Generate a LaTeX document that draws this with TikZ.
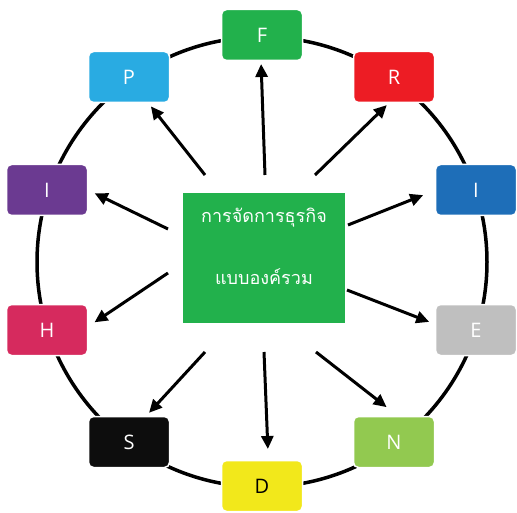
\documentclass[tikz,border=0pt]{standalone}
\usepackage{fontspec}
\setmainfont{Open Sans}
\newfontfamily\thaifont[Script=Thai]{Loma}
\usetikzlibrary{arrows.meta}

\definecolor{cF}{HTML}{22B14C}
\definecolor{cR}{HTML}{ED1C24}
\definecolor{cIr}{HTML}{1E6EB8}
\definecolor{cE}{HTML}{BFBFBF}
\definecolor{cN}{HTML}{92C950}
\definecolor{cD}{HTML}{F2E81B}
\definecolor{cS}{HTML}{0D0D0D}
\definecolor{cH}{HTML}{D62A5E}
\definecolor{cIl}{HTML}{6B3A91}
\definecolor{cP}{HTML}{29ABE2}
\definecolor{cCenter}{HTML}{22B14C}

\tikzset{
  letterbox/.style={draw=white, line width=1.5pt, rounded corners=5pt,
    minimum width=81pt, minimum height=51pt, inner sep=0pt,
    text=white, font=\fontsize{20}{24}\selectfont},
  ring/.style={line width=3.5pt, black},
  spoke/.style={line width=3pt, black, shorten >=3pt,
    -{Triangle[length=13pt,width=12pt]}},
  thaitext/.style={text=white, font=\thaifont\fontsize{18}{22}\selectfont},
}

\begin{document}
\begin{tikzpicture}[x=1pt,y=-1pt]
  \useasboundingbox (0,0) rectangle (517,513);

  % outer ring
  \draw[ring] (262,262) circle (225);

  % central box
  \node[fill=cCenter, minimum width=162pt, minimum height=130pt, inner sep=0pt]
    (center) at (264,258) {};
  \node[thaitext] (l1) at (264,218) {การจัดการธุรกิจ};
  \node[thaitext] (l2) at (264,277) {แบบองค์รวม};

  % letter boxes on the ring
  \node[letterbox, fill=cF]  (F)  at (262,35)  {F};
  \node[letterbox, fill=cR]  (R)  at (394,77)  {R};
  \node[letterbox, fill=cIr] (Ir) at (476,190) {I};
  \node[letterbox, fill=cE]  (E)  at (476,330) {E};
  \node[letterbox, fill=cN]  (N)  at (394,442) {N};
  \node[letterbox, fill=cD, text=black] (D) at (262,486) {D};
  \node[letterbox, fill=cS]  (S)  at (129,442) {S};
  \node[letterbox, fill=cH]  (H)  at (47,330)  {H};
  \node[letterbox, fill=cIl] (Il) at (47,190)  {I};
  \node[letterbox, fill=cP]  (P)  at (129,77)  {P};

  % spoke starting points around the central box
  \coordinate (sF)  at (265,175);
  \coordinate (sR)  at (315,175);
  \coordinate (sIr) at (348,225);
  \coordinate (sE)  at (347,290);
  \coordinate (sN)  at (316,352);
  \coordinate (sD)  at (264,352);
  \coordinate (sS)  at (205,352);
  \coordinate (sH)  at (168,273);
  \coordinate (sIl) at (168,229);
  \coordinate (sP)  at (205,175);

  % spoke end points just short of each box
  \coordinate (eF)  at (261,61);
  \coordinate (eR)  at (389,103);
  \coordinate (eIr) at (426,194);
  \coordinate (eE)  at (432,323);
  \coordinate (eN)  at (389,409);
  \coordinate (eD)  at (268,452);
  \coordinate (eS)  at (147,415);
  \coordinate (eH)  at (92,324);
  \coordinate (eIl) at (92,192);
  \coordinate (eP)  at (149,104);

  \foreach \k in {F,R,Ir,E,N,D,S,H,Il,P}
    \draw[spoke] (s\k) -- (e\k);
\end{tikzpicture}
\end{document}
